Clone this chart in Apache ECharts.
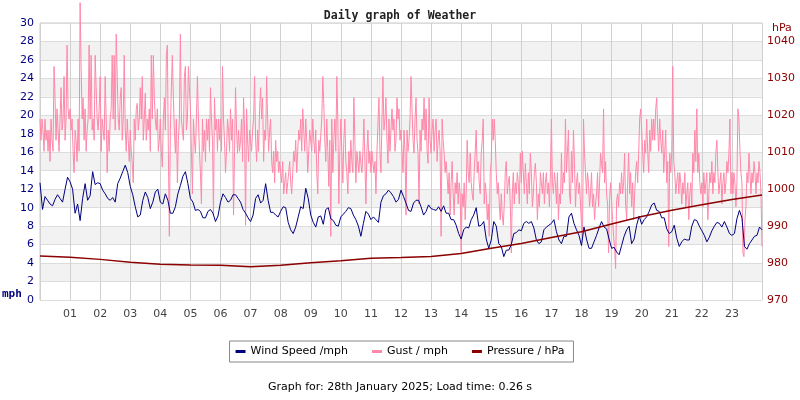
<!DOCTYPE html>
<html>
<head>
<meta charset="utf-8">
<script src="https://cdn.jsdelivr.net/npm/echarts@6/dist/echarts.min.js"></script>
<style>
html,body{margin:0;padding:0;background:#fff;}
#chart{width:800px;height:400px;}
</style>
</head>
<body>
<div id="chart"></div>
<script>
// Hour tick labels
var hourLabels = ['01','02','03','04','05','06','07','08','09','10','11','12','13','14','15','16','17','18','19','20','21','22','23'];

// Wind speed (mph), 5-minute samples, 12 per hour, plus final point
var windSpeed = [
12.7,9.8,11.2,10.8,10.4,10.2,10.9,11.4,11.0,10.6,12.0,13.3,
12.8,12.0,9.4,10.4,8.6,11.0,12.6,10.8,11.3,13.9,12.5,12.7,
12.6,11.9,11.5,11.0,10.8,11.1,10.6,12.6,13.2,13.9,14.6,13.8,
12.3,11.4,10.1,9.0,9.2,10.8,11.7,11.1,9.9,10.6,11.7,12.0,
10.6,10.4,11.5,10.8,9.4,9.4,10.1,11.5,12.4,13.4,13.9,12.6,
11.0,10.6,9.7,9.8,9.6,8.9,8.9,9.6,9.8,9.4,8.5,9.1,
10.6,11.5,11.1,10.6,10.8,11.4,11.4,11.0,10.6,9.8,9.4,8.9,
8.5,9.2,11.0,11.4,10.5,10.8,12.6,10.8,9.5,9.5,9.2,9.0,
9.6,10.1,10.0,8.4,7.6,7.2,7.9,9.0,10.1,9.9,12.1,11.0,
9.2,8.4,7.9,9.0,9.1,8.2,9.8,10.0,8.8,8.6,8.1,8.0,
9.0,9.3,9.6,10.0,9.9,9.2,8.7,8.0,6.9,8.3,9.6,9.3,
8.7,9.0,8.7,8.4,10.6,11.3,11.5,11.9,11.6,11.2,10.6,10.9,
11.9,11.2,10.5,9.7,9.6,10.5,10.8,10.8,10.1,9.2,9.6,10.3,
9.9,9.8,9.7,10.1,9.6,10.2,9.4,9.4,8.7,8.7,8.1,7.2,
6.6,7.6,7.9,7.8,8.7,9.2,10.0,8.0,8.1,8.5,6.6,5.6,
6.5,8.5,8.0,6.1,5.8,4.7,5.4,5.4,6.0,7.2,7.3,7.6,
7.5,8.3,8.5,8.3,8.5,7.8,6.5,6.1,6.3,7.6,7.9,8.1,
8.3,8.7,7.4,6.5,6.1,6.9,6.9,9.0,9.4,8.3,7.6,7.0,
5.9,7.9,6.6,5.6,5.6,6.3,7.0,7.8,8.5,7.9,7.7,6.6,
5.6,5.7,5.2,4.9,5.9,6.9,7.6,8.0,6.1,6.6,8.1,9.1,
8.2,8.7,9.0,9.6,10.3,10.5,9.7,9.6,8.9,8.9,7.7,7.2,
7.4,8.1,6.7,5.8,6.3,6.6,6.5,6.5,8.0,8.7,8.6,8.0,
7.5,7.0,6.3,6.8,7.5,8.0,8.4,8.3,7.9,8.5,7.9,7.2,
7.0,7.2,8.8,9.7,8.9,5.8,5.5,6.1,6.5,6.9,7.0,7.9,
7.6];

// Gust (mph), 2-minute samples, 30 per hour, plus final point
var gust = [
19.6,17.3,19.6,18.4,16.1,19.6,17.3,18.4,16.1,18.4,15.0,19.6,17.3,16.1,25.3,21.9,17.3,20.7,18.4,16.1,19.6,23.0,18.4,19.6,24.2,17.3,19.6,27.6,20.7,19.6,
20.7,18.4,19.6,16.1,13.8,18.4,17.3,15.0,19.6,16.1,32.2,25.3,19.6,21.9,17.3,20.7,16.1,18.4,19.6,27.6,19.6,26.5,18.4,19.6,17.3,26.5,23.0,19.6,18.4,20.7,
24.2,16.1,19.6,18.4,17.3,24.2,19.6,13.8,18.4,16.1,19.6,20.7,26.5,19.6,26.5,18.4,28.8,24.2,19.6,18.4,21.9,23.0,17.3,19.6,26.5,18.4,16.1,19.6,17.3,15.0,
18.4,16.1,14.8,12.7,19.6,17.3,20.7,21.3,18.4,19.6,23.0,19.6,24.2,17.3,19.6,22.4,17.3,19.6,18.4,20.7,16.1,26.5,19.6,26.5,21.9,19.6,18.4,20.7,16.1,17.3,
19.6,16.1,14.4,19.6,21.9,18.4,26.5,27.6,16.1,6.9,18.4,23.0,26.5,21.9,18.4,15.9,19.6,12.7,17.3,19.6,28.8,19.6,18.4,17.3,24.2,25.3,18.4,19.6,25.3,23.0,
20.7,16.1,11.5,19.6,17.3,15.9,19.6,24.2,19.6,16.1,13.8,10.4,19.6,16.1,18.4,15.0,19.6,17.3,19.6,16.1,23.0,19.6,17.3,9.2,21.9,18.4,19.6,16.1,19.6,17.3,
19.6,16.1,25.3,19.6,17.3,13.8,16.1,19.6,18.4,16.1,20.7,17.3,19.6,9.2,16.1,23.0,18.4,15.9,18.4,16.1,17.3,19.6,15.0,21.9,18.4,8.1,20.7,17.3,15.0,18.4,
18.4,16.1,18.4,19.6,24.2,17.3,15.0,18.4,16.1,20.7,23.0,19.6,21.9,15.0,18.4,17.3,24.2,19.6,16.1,18.4,19.6,15.0,13.8,16.1,12.7,17.3,15.0,16.1,13.8,15.0,
13.8,12.7,15.0,11.5,12.7,13.8,11.5,12.7,13.8,15.0,12.7,11.5,13.8,16.1,15.0,17.3,13.8,16.1,18.4,17.3,19.6,16.1,20.7,18.4,16.1,19.6,17.3,13.8,16.1,18.4,
18.4,16.1,19.6,17.3,15.9,18.4,13.8,11.5,17.3,16.1,15.9,19.6,24.2,21.3,17.3,15.0,19.6,16.1,12.3,17.3,6.9,19.6,13.8,17.3,19.6,16.1,24.2,19.6,10.4,16.1,
19.6,16.1,12.7,17.3,19.6,15.0,13.8,11.5,16.1,13.8,17.3,15.0,13.8,21.9,17.3,12.7,16.1,15.9,13.8,16.1,14.8,13.8,16.1,19.6,15.0,10.4,16.1,18.4,14.8,16.1,
13.8,16.1,14.8,13.8,15.0,11.5,16.1,15.9,21.9,16.1,13.8,19.6,24.2,18.4,19.6,21.9,17.3,14.8,19.6,16.1,15.9,20.7,18.4,19.6,16.1,17.3,21.9,19.6,20.7,17.3,
18.4,16.1,13.8,18.4,16.1,9.2,18.4,16.1,17.3,19.6,24.2,20.7,17.3,15.9,19.6,21.9,17.3,15.9,10.4,18.4,16.1,19.6,18.4,21.9,17.3,20.7,16.1,14.8,21.9,17.3,
15.9,18.4,19.6,16.1,18.4,19.6,15.0,17.3,18.4,16.1,6.9,19.6,17.3,15.9,13.8,15.0,13.4,11.5,13.8,9.2,12.7,15.0,11.5,9.2,12.7,11.5,13.8,10.4,12.7,11.5,
5.1,11.5,10.1,12.7,8.7,11.5,17.3,13.8,12.7,15.9,12.7,11.5,10.8,13.8,16.1,18.4,13.8,15.0,12.7,11.5,15.9,17.3,19.6,10.4,12.7,11.5,8.7,10.4,6.9,13.8,
15.0,19.6,17.3,19.6,17.3,13.8,11.5,12.7,10.4,8.7,11.5,9.2,8.1,10.4,13.8,15.0,11.5,12.7,13.4,10.4,5.1,11.5,13.8,10.4,12.7,11.5,13.8,12.7,10.4,15.9,
12.7,16.1,13.8,11.5,14.8,12.7,10.4,13.8,11.5,15.9,13.8,10.1,11.5,13.8,14.8,12.7,8.7,11.5,10.1,13.8,12.7,11.5,13.8,10.4,12.7,13.8,11.5,12.7,10.1,13.8,
19.6,12.7,11.5,13.8,12.7,10.4,13.8,8.7,11.5,10.4,15.9,11.5,13.8,12.7,19.6,13.8,16.1,18.4,11.5,10.4,16.1,12.7,18.4,15.0,10.1,12.7,13.8,11.5,12.7,10.4,
8.1,6.9,19.6,15.9,13.8,11.5,13.8,12.7,10.1,11.5,13.8,10.1,11.5,8.7,10.4,11.5,13.8,10.1,12.7,15.9,14.8,13.8,20.7,12.7,15.0,11.5,10.4,5.1,10.8,12.7,
10.8,8.7,6.9,5.8,3.4,10.8,11.5,10.1,12.7,11.5,13.8,11.5,12.7,15.9,10.4,8.7,12.7,15.9,11.5,13.8,10.1,12.7,8.7,11.5,13.8,15.0,12.7,15.9,19.6,20.7,
20.7,16.1,13.8,17.3,15.9,19.6,16.1,13.8,18.4,16.1,19.6,17.3,19.6,17.3,20.7,21.9,18.4,16.1,19.6,17.3,15.9,18.4,13.8,16.1,18.4,12.7,15.0,5.8,15.9,13.8,
16.1,25.3,15.0,13.8,11.5,12.7,13.8,11.5,13.8,12.7,10.4,12.7,11.5,13.8,10.1,11.5,12.7,8.7,11.5,12.7,10.1,15.9,13.8,18.4,15.0,20.7,13.8,15.9,12.7,11.5,
12.7,10.1,13.8,11.5,12.7,13.8,8.7,11.5,13.8,12.7,15.0,11.5,13.8,12.7,15.9,17.3,13.8,11.5,12.7,13.8,10.4,12.7,13.8,11.5,12.7,15.0,13.8,15.9,19.6,11.5,
13.8,11.5,13.8,12.7,10.1,12.7,20.7,19.6,16.1,13.8,12.7,5.1,4.7,8.7,10.1,13.8,12.7,15.9,13.8,11.5,13.8,12.7,15.0,13.8,11.5,13.8,12.7,15.0,13.8,11.5,
5.8];

// Pressure (hPa), hourly 00..24
var pressure = [981.9,981.6,981.0,980.2,979.7,979.5,979.4,979.0,979.4,980.1,980.6,981.3,981.5,981.8,982.6,984.0,985.3,986.9,988.5,990.6,992.6,994.3,995.8,997.2,998.4];

var windData = windSpeed.map(function(v,i){return [i/12, v];});
var gustData = gust.map(function(v,i){return [i/30, v];});
var pressData = pressure.map(function(v,i){return [i, v];});

var chart = echarts.init(document.getElementById('chart'), null, {renderer:'canvas'});
var FONT = 'DejaVu Sans';
chart.setOption({
  animation:false,
  backgroundColor:'#ffffff',
  title:{
    text:'Daily graph of Weather',
    left:'center', top:5,
    textStyle:{fontFamily:'DejaVu Sans Mono', fontWeight:'bold', fontSize:11.5, color:'#222'}
  },
  grid:{left:40, right:38, top:23, bottom:100, show:true, borderColor:'#cccccc', borderWidth:1},
  legend:{
    data:['Wind Speed /mph','Gust / mph','Pressure / hPa'],
    left:'center', top:341,
    borderColor:'#888', borderWidth:1, padding:[5,9,5,6],
    itemWidth:10, itemHeight:3, itemGap:24, icon:'rect',
    textStyle:{fontFamily:FONT, fontSize:11, color:'#000'}
  },
  xAxis:{
    type:'value', min:0, max:24, interval:1,
    axisLine:{show:false}, axisTick:{show:false},
    axisLabel:{margin:9, color:'#444', fontFamily:FONT, fontSize:11,
      formatter:function(v){ return (v>=1 && v<=23) ? hourLabels[v-1] : ''; }},
    splitLine:{show:true, lineStyle:{color:'#d0d0d0', width:1}}
  },
  yAxis:[{
    type:'value', min:0, max:30, interval:2, position:'left',
    axisLine:{show:false}, axisTick:{show:false},
    axisLabel:{margin:6, color:'#000080', fontFamily:FONT, fontSize:11},
    splitLine:{show:true, lineStyle:{color:'#dcdcdc', width:1}},
    splitArea:{show:true, areaStyle:{color:['#ffffff','#f2f2f2']}}
  },{
    type:'value', min:970, max:1045, interval:10, position:'right',
    axisLine:{show:false}, axisTick:{show:false},
    axisLabel:{margin:5, color:'#8b0000', fontFamily:FONT, fontSize:11,
      formatter:function(v){ return v>1040 ? '' : String(v); }},
    splitLine:{show:false}
  }],
  graphic:[
    {type:'text', left:2, top:289, style:{text:'mph', font:'bold 11px "DejaVu Sans Mono"', fill:'#000080'}},
    {type:'text', left:772, top:23, style:{text:'hPa', font:'11px "DejaVu Sans"', fill:'#8b0000'}},
    {type:'text', left:'center', top:382, style:{text:'Graph for: 28th January 2025; Load time: 0.26 s', font:'11px "DejaVu Sans"', fill:'#000'}}
  ],
  series:[
    {name:'Gust / mph', type:'line', yAxisIndex:0, data:gustData, showSymbol:false, clip:false,
      lineStyle:{color:'#ff88aa', width:1}, itemStyle:{color:'#ff88aa'}, z:2},
    {name:'Wind Speed /mph', type:'line', yAxisIndex:0, data:windData, showSymbol:false,
      lineStyle:{color:'#000080', width:1}, itemStyle:{color:'#000080'}, z:3},
    {name:'Pressure / hPa', type:'line', yAxisIndex:1, data:pressData, showSymbol:false,
      lineStyle:{color:'#8b0000', width:1.5}, itemStyle:{color:'#8b0000'}, z:4}
  ]
});
</script>
</body>
</html>
